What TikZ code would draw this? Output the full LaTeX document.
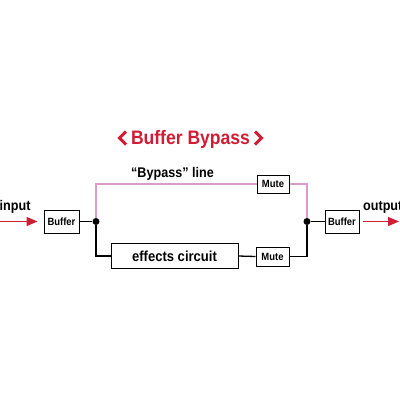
\documentclass[tikz,border=0pt]{standalone}
\usepackage{fontspec}
\setmainfont{Liberation Sans}[FakeStretch=0.9]
\usetikzlibrary{arrows.meta}
\definecolor{bred}{RGB}{208,28,52}
\definecolor{bpink}{RGB}{216,155,208}
\begin{document}
\begin{tikzpicture}[x=1pt,y=-1pt,
  box/.style={draw, line width=1pt, fill=white, inner sep=0pt, font=\bfseries\fontsize{10.5}{12}\selectfont},
  wire/.style={line width=1.3pt},
  pwire/.style={line width=1.3pt, draw=bpink},
  redarrow/.style={draw=bred, line width=1.3pt, -{Triangle[length=11pt,width=9pt]}},
  lbl/.style={font=\bfseries\fontsize{14}{16}\selectfont, inner sep=0pt},
  dot/.style={circle, fill=black, inner sep=0pt, minimum size=7pt}]
\useasboundingbox (0,0) rectangle (400,400);
\node[box, minimum width=35pt, minimum height=23pt] (bin) at (61.5,221.5) {Buffer};
\node[box, minimum width=34pt, minimum height=23pt] (bout) at (342,221.5) {Buffer};
\node[box, minimum width=32pt, minimum height=18pt] (mtop) at (273,184) {Mute};
\node[box, minimum width=33pt, minimum height=19pt] (mbot) at (272.5,256.5) {Mute};
\node[box, minimum width=127pt, minimum height=25pt, font=\bfseries\fontsize{14.5}{16}\selectfont] (eff) at (174.5,256) {effects circuit};
\node[dot] (jl) at (96,221.5) {};
\node[dot] (jr) at (307,221.5) {};
\coordinate (tl) at (96,184);
\coordinate (tr) at (307,184);
\draw[pwire] (jl) -- (tl) -- (mtop.west);
\draw[pwire] (mtop.east) -- (tr) -- (jr);
\draw[wire] (jl) |- (eff.west);
\draw[wire] (eff.east) -- (mbot.west);
\draw[wire] (mbot.east) -| (jr);
\draw[wire] (bin.east) -- (jl);
\draw[wire] (jr) -- (bout.west);
\coordinate (inS) at (-1,221.5);
\coordinate (outE) at (399,221.5);
\draw[redarrow, shorten >=6pt] (inS) -- (bin.west);
\draw[redarrow, shorten <=3pt] (bout.east) -- (outE);
\node[lbl, anchor=base west] (inlbl) at (-0.5,210) {input};
\node[lbl, anchor=base west] (outlbl) at (363,210) {output};
\node[lbl, anchor=base] (bylbl) at (172.5,177.5) {“Bypass” line};
\node[font=\bfseries\fontsize{19.5}{22}\selectfont, text=bred, anchor=base, inner sep=0pt] (title) at (190.5,144.5) {Buffer Bypass};
\draw[bred, line width=3pt] (126,131.5) -- (119.5,138) -- (126,144.5);
\draw[bred, line width=3pt] (255,131.5) -- (261.5,138) -- (255,144.5);
\end{tikzpicture}
\end{document}
